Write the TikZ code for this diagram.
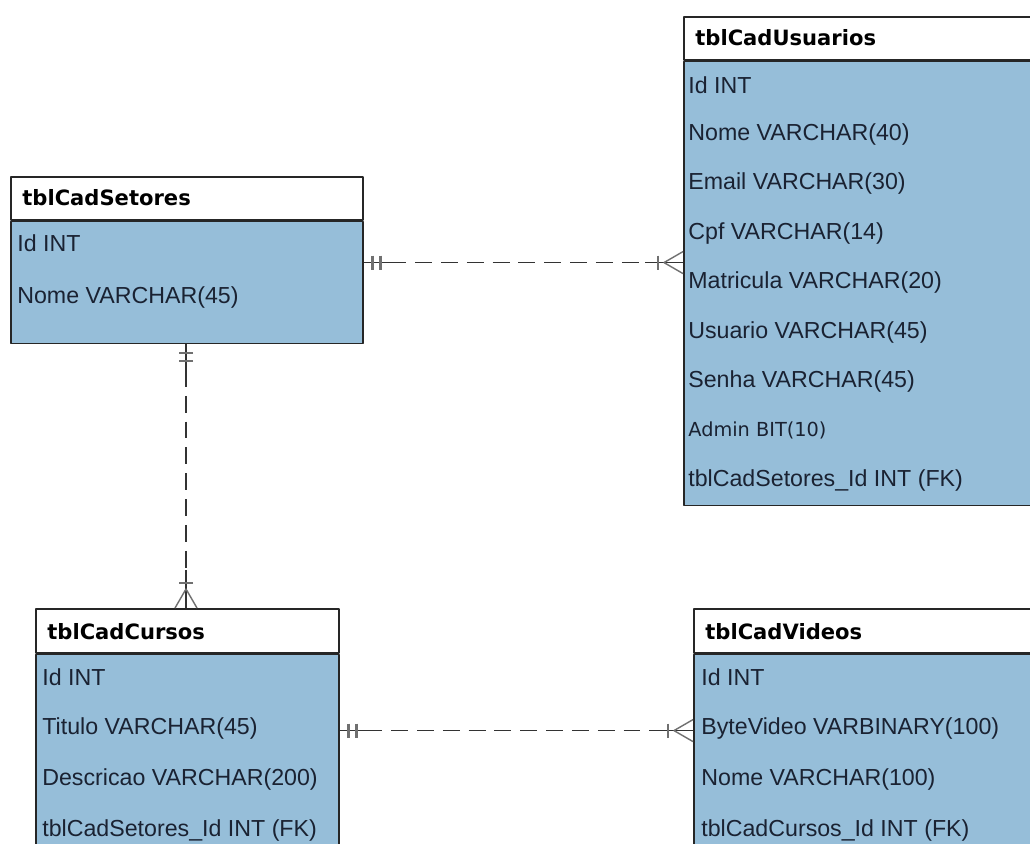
\documentclass[tikz,border=0pt]{standalone}
\usepackage{fontspec}
\setmainfont{Liberation Sans}
\newfontfamily\tahomalike{DejaVu Sans}
\definecolor{tblblue}{RGB}{150,190,217}
\definecolor{fieldtext}{RGB}{26,34,50}
\definecolor{markgray}{RGB}{112,112,112}
\tikzset{
	onemark/.pic={
		\draw[markline] (0,0) -- (26,0);
		\draw[markbar] (9,-7) -- (9,7) (17,-7) -- (17,7);
	},
	manymark/.pic={
		\draw[markline] (-38,0) -- (0,0);
		\draw[markbar] (-25,-7) -- (-25,7);
		\draw[markfoot] (0,-11) -- (-19,0) -- (0,11);
	}
}
\begin{document}
\begin{tikzpicture}[x=0.02cm, y=-0.02cm, line join=round,
	font=\fontsize{13.2}{15}\selectfont,
	headbox/.style={draw=black!85, fill=white, line width=0.9pt, anchor=north west, inner sep=0pt},
	bodybox/.style={draw=black!85, fill=tblblue, line width=0.9pt, anchor=north west, inner sep=0pt},
	tbltitle/.style={anchor=west, inner sep=0pt, font=\fontsize{12}{14}\tahomalike\bfseries},
	field/.style={anchor=west, inner sep=0pt, text=fieldtext},
	rel/.style={draw=black!80, line width=0.8pt, dash pattern=on 9.6pt off 5.1pt},
	markline/.style={draw=black!80, line width=0.8pt, solid},
	markbar/.style={draw=markgray, line width=1.3pt, solid},
	markfoot/.style={draw=markgray, line width=0.8pt, solid}]
	\clip (0,0) rectangle (1030,843);
	\fill[white] (0,0) rectangle (1030,843);
	
	% tblCadSetores
	\node[headbox, minimum width=7.04cm, minimum height=0.86cm] (setH) at (10,176) {};
	\node[bodybox, minimum width=7.04cm, minimum height=2.44cm] (setB) at (setH.south west) {};
	\node[tbltitle] (setT) at (22,198) {tblCadSetores};
	\foreach \f [count=\i from 0] in {Id INT, Nome VARCHAR(45)}{
		\node[field] (set\i) at (17,{243+54*\i}) {\f};
	}
	
	% tblCadUsuarios
	\node[headbox, minimum width=7.24cm, minimum height=0.86cm] (usrH) at (683,16) {};
	\node[bodybox, minimum width=7.24cm, minimum height=8.88cm] (usrB) at (usrH.south west) {};
	\node[tbltitle] (usrT) at (695,38) {tblCadUsuarios};
	\foreach \f [count=\i from 0] in {Id INT, Nome VARCHAR(40), Email VARCHAR(30), Cpf VARCHAR(14),
		Matricula VARCHAR(20), Usuario VARCHAR(45), Senha VARCHAR(45), {\fontsize{11}{13}\tahomalike Admin BIT(10)},
		tblCadSetores\_Id INT (FK)}{
		\node[field] (usr\i) at (688,{85+49.4*\i}) {\f};
	}
	
	% tblCadCursos
	\node[headbox, minimum width=6.06cm, minimum height=0.88cm] (curH) at (35,608) {};
	\node[bodybox, minimum width=6.06cm, minimum height=4.36cm] (curB) at (curH.south west) {};
	\node[tbltitle] (curT) at (47,632) {tblCadCursos};
	\foreach \f [count=\i from 0] in {Id INT, Titulo VARCHAR(45), Descricao VARCHAR(200), tblCadSetores\_Id INT (FK)}{
		\node[field] (cur\i) at (42,{677+51*\i}) {\f};
	}
	
	% tblCadVideos
	\node[headbox, minimum width=7.04cm, minimum height=0.88cm] (vidH) at (693,608) {};
	\node[bodybox, minimum width=7.04cm, minimum height=4.36cm] (vidB) at (vidH.south west) {};
	\node[tbltitle] (vidT) at (705,632) {tblCadVideos};
	\foreach \f [count=\i from 0] in {Id INT, ByteVideo VARBINARY(100), Nome VARCHAR(100), tblCadCursos\_Id INT (FK)}{
		\node[field] (vid\i) at (701,{677+51*\i}) {\f};
	}
	
	% relationships
	\path (setB.north east) ++(0,42) coordinate (r1a);
	\path (r1a -| usrB.west) coordinate (r1b);
	\path (setB.south west) ++(176,0) coordinate (r2a);
	\path (r2a |- curH.north) coordinate (r2b);
	\path (curB.north east) ++(0,77) coordinate (r3a);
	\path (r3a -| vidB.west) coordinate (r3b);
	\draw[rel] (r1a) -- (r1b);
	\draw[rel] (r2a) -- (r2b);
	\draw[rel] (r3a) -- (r3b);
	\path (r1a) pic {onemark} (r1b) pic {manymark};
	\path (r2a) pic[rotate=-90] {onemark} (r2b) pic[rotate=-90] {manymark};
	\path (r3a) pic {onemark} (r3b) pic {manymark};
\end{tikzpicture}
\end{document}
